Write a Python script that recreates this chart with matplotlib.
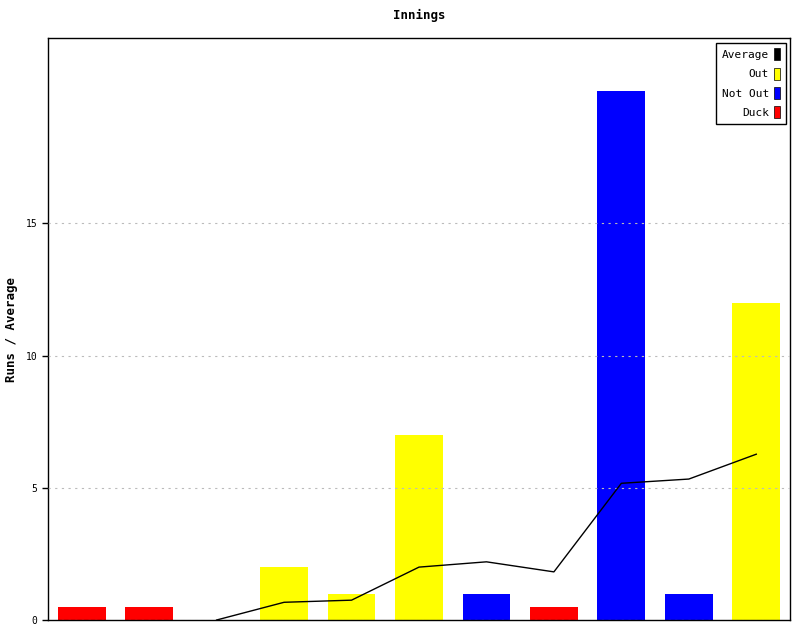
import numpy as np
import matplotlib
matplotlib.use("Agg")
import matplotlib.pyplot as plt
from matplotlib.patches import Patch

# innings data
innings = np.arange(1, 12)
runs = [0.5, 0.5, 0, 2, 1, 7, 1, 0.5, 20, 1, 12]
status = ["Duck", "Duck", "Out", "Out", "Out", "Out", "Not Out", "Duck", "Not Out", "Not Out", "Out"]
avg_x = [3, 4, 5, 6, 7, 8, 9, 10, 11]
avg_y = [0, 0.67, 0.75, 2.0, 2.2, 1.82, 5.17, 5.33, 6.27]

colours = {"Out": "#ffff00", "Not Out": "#0000ff", "Duck": "#ff0000", "Average": "#000000"}

plt.rcParams['font.family'] = ['DejaVu Sans Mono']

fig = plt.figure(figsize=(8, 6.4), dpi=100)
ax = fig.add_axes([0.06, 0.03125, 0.9275, 0.909])

ax.bar(innings, runs, width=0.71, color=[colours[s] for s in status], zorder=1)
ax.plot(avg_x, avg_y, color="black", linewidth=1, zorder=3)

ax.set_xlim(0.5, 11.5)
ax.set_ylim(0, 22)
ax.set_xticks([])
ax.set_yticks([0, 5, 10, 15])
ax.tick_params(axis="y", labelsize=7, length=4, width=1)
for s in ax.spines.values():
    s.set_linewidth(1)
ax.grid(axis="y", color="#bbbbbb", linestyle=(0, (2, 4)), linewidth=0.8, zorder=2)
ax.set_axisbelow(False)

ax.set_title("Innings", fontsize=9, fontweight="bold", pad=14)
ax.set_ylabel("Runs / Average", fontsize=9, fontweight="bold")
ax.yaxis.set_label_coords(-0.041, 0.5)

handles = [Patch(facecolor=colours[k], edgecolor="black", linewidth=0.5)
           for k in ["Average", "Out", "Not Out", "Duck"]]
leg = ax.legend(handles, ["Average", "Out", "Not Out", "Duck"], loc="upper right",
                markerfirst=False, fontsize=8, handlelength=0.5, handleheight=1.3,
                handletextpad=0.5, labelspacing=0.65, fancybox=False,
                edgecolor="black", framealpha=1, borderpad=0.5,
                borderaxespad=0.4)
leg.get_frame().set_linewidth(1)
for t in leg.get_texts():
    t.set_ha("right")

fig.savefig("out.png", dpi=100)
